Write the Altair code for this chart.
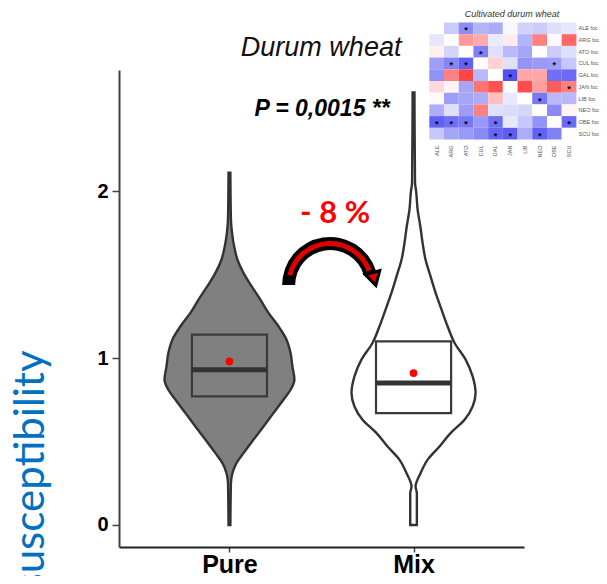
import altair as alt
import pandas as pd

# ---------------- data ----------------
groups = ["Pure", "Mix"]
group_pos = [1, 2]
group_fill = ["#808080", "#ffffff"]

# violin outlines: value and half-width (category units)
pure_values = [0.00, 0.25, 0.31, 0.37, 0.43, 0.51, 0.59, 0.67, 0.75, 0.81, 0.87, 0.95,
               1.03, 1.11, 1.19, 1.27, 1.35, 1.43, 1.51, 1.59, 1.66, 1.75, 1.83, 2.11]
pure_halfwidth = [0.005, 0.008, 0.016, 0.038, 0.076, 0.130, 0.185, 0.239, 0.293, 0.332, 0.353, 0.342,
                  0.332, 0.310, 0.266, 0.212, 0.168, 0.120, 0.076, 0.043, 0.027, 0.014, 0.008, 0.005]

mix_values = [0.00, 0.19, 0.23, 0.31, 0.39, 0.47, 0.55, 0.63, 0.71, 0.79, 0.89, 0.99,
              1.09, 1.19, 1.29, 1.39, 1.49, 1.59, 1.69, 1.78, 1.89, 2.00, 2.05, 2.59]
mix_halfwidth = [0.018, 0.018, 0.011, 0.038, 0.076, 0.141, 0.201, 0.277, 0.321, 0.337, 0.321, 0.283,
                 0.223, 0.185, 0.152, 0.120, 0.092, 0.065, 0.049, 0.038, 0.022, 0.014, 0.008, 0.005]

q1 = [0.77, 0.67]
median = [0.93, 0.85]
q3 = [1.14, 1.10]
mean = [0.98, 0.91]
box_half = 0.204

title_text = "Durum wheat"
p_text = "P = 0,0015 **"
change_text = "- 8 %"

# inset correlation heatmap
heat_title = "Cultivated durum wheat"
heat_rows = ["ALE foc", "ARG foc", "ATO foc", "CUL foc", "GAL foc",
             "JAN foc", "LIB foc", "NEO foc", "OBE foc", "SCU foc"]
heat_cols = ["ALE", "ARG", "ATO", "CUL", "GAL", "JAN", "LIB", "NEO", "OBE", "SCU"]
heat_vals = [
    [0.00, -0.20, -0.45, -0.30, -0.33, -0.03, -0.18, -0.20, -0.13, -0.10],
    [-0.10, 0.00, 0.40, 0.33, -0.08, 0.08, -0.30, 0.50, -0.02, 0.60],
    [0.06, -0.17, 0.00, -0.50, -0.12, -0.28, -0.35, 0.00, -0.20, -0.13],
    [-0.38, -0.48, -0.62, 0.00, 0.18, -0.12, -0.42, -0.40, -0.38, -0.22],
    [-0.43, 0.50, 0.73, -0.28, 0.00, -0.68, 0.35, 0.35, -0.56, -0.58],
    [0.15, 0.04, -0.35, 0.54, 0.68, 0.00, 0.70, 0.38, 0.64, 0.50],
    [0.02, -0.38, -0.35, -0.32, 0.25, -0.09, 0.00, -0.53, -0.28, -0.28],
    [-0.32, -0.12, -0.38, 0.50, -0.12, -0.14, -0.16, 0.00, -0.46, 0.04],
    [-0.62, -0.56, -0.53, -0.40, -0.56, -0.09, -0.22, -0.42, 0.00, -0.58],
    [-0.22, -0.35, -0.40, -0.46, -0.60, -0.64, -0.32, -0.62, -0.50, 0.00],
]
heat_star_rows = [0, 2, 3, 3, 3, 4, 5, 6, 8, 8, 8, 8, 8, 9, 9, 9]
heat_star_cols = [2, 3, 1, 2, 8, 5, 9, 7, 0, 1, 2, 4, 9, 4, 5, 7]

# ---------------- layout / style ----------------
W, H = 405, 477
Y_DOMAIN = [-0.132, 2.725]
X_DOMAIN = [0.4, 2.6]
SANS = "Liberation Sans"
AX = "#444444"
LINE = "#333333"

# ---------------- tables ----------------
rows = []
for g, pos, vals, hws in [(groups[0], group_pos[0], pure_values, pure_halfwidth),
                          (groups[1], group_pos[1], mix_values, mix_halfwidth)]:
    for v, hw in zip(vals, hws):
        rows.append({"group": g, "value": v, "xl": pos - hw, "xr": pos + hw})
violin_df = pd.DataFrame(rows)

box_df = pd.DataFrame({
    "group": groups, "pos": group_pos,
    "x0": [p - box_half for p in group_pos], "x1": [p + box_half for p in group_pos],
    "q1": q1, "median": median, "q3": q3, "mean": mean,
})

heat_df = pd.DataFrame([
    {"row": heat_rows[i], "col": heat_cols[j], "r": heat_vals[i][j]}
    for i in range(len(heat_rows)) for j in range(len(heat_cols))
])
star_df = pd.DataFrame({
    "row": [heat_rows[i] for i in heat_star_rows],
    "col": [heat_cols[j] for j in heat_star_cols],
})

label_expr = " : ".join(
    [f"datum.value == {p} ? '{g}'" for p, g in zip(group_pos[:-1], groups[:-1])]
) + f" : '{groups[-1]}'"

x_scale = alt.Scale(domain=X_DOMAIN, nice=False, zero=False)
y_scale = alt.Scale(domain=Y_DOMAIN, nice=False, zero=False)

x_axis = alt.Axis(values=group_pos, labelExpr=label_expr, title=None, grid=False,
                  domainColor="#222222", domainWidth=2, tickColor=AX, tickWidth=1.5, tickSize=5,
                  labelFont=SANS, labelFontSize=25, labelFontWeight="bold", labelColor="#000000",
                  labelPadding=0)
y_axis = alt.Axis(values=[0, 1, 2], format="d", grid=False,
                  domainColor=AX, domainWidth=2, tickColor=AX, tickWidth=1.5, tickSize=7,
                  labelFont=SANS, labelFontSize=20, labelFontWeight="bold", labelColor="#000000",
                  labelPadding=4,
                  title="susceptibility", titleFont="Lato", titleFontSize=42, titleFontWeight="normal",
                  titleColor="#0070C0", titleAngle=270, titleAlign="left", titleBaseline="alphabetic",
                  titleX=-76, titleY=521)


def X(field):
    return alt.X(f"{field}:Q", scale=x_scale, axis=x_axis)


def Y(field):
    return alt.Y(f"{field}:Q", scale=y_scale, axis=y_axis)


violins = alt.Chart(violin_df).mark_area(orient="horizontal", stroke=LINE, strokeWidth=2.4,
                                          interpolate="monotone").encode(
    x=X("xl"), x2="xr", y=Y("value"),
    detail="group:N",
    fill=alt.Fill("group:N", scale=alt.Scale(domain=groups, range=group_fill), legend=None),
)

boxes = alt.Chart(box_df).mark_rect(fillOpacity=0, stroke="#3a3a3a", strokeWidth=2.2).encode(
    x=X("x0"), x2="x1", y=Y("q1"), y2="q3")

medians = alt.Chart(box_df).mark_rule(color=LINE, strokeWidth=5).encode(
    x=X("x0"), x2="x1", y=Y("median"))

means = alt.Chart(box_df).mark_point(filled=True, color="#ff0000", size=60, opacity=1).encode(
    x=X("pos"), y=Y("mean"))

# annotation positions (data units of the main chart)
ann = pd.DataFrame({
    "label": [title_text, p_text, change_text, heat_title],
    "x": [1.498, 1.503, 1.574, 2.535],
    "y": [2.856, 2.494, 1.862, 3.06],
})

t_title = alt.Chart(ann.iloc[[0]]).mark_text(font=SANS, fontSize=27, fontStyle="italic",
                                             color="#111111", baseline="middle").encode(
    x=X("x"), y=Y("y"), text="label:N")
t_p = alt.Chart(ann.iloc[[1]]).mark_text(font=SANS, fontSize=23, fontStyle="italic", fontWeight="bold",
                                         color="#000000", baseline="middle").encode(
    x=X("x"), y=Y("y"), text="label:N")
t_change = alt.Chart(ann.iloc[[2]]).mark_text(font="Lato", fontSize=31, fontWeight="bold",
                                              color="#ff0000", baseline="middle").encode(
    x=X("x"), y=Y("y"), text="label:N")
t_heat = alt.Chart(ann.iloc[[3]]).mark_text(font=SANS, fontSize=9, fontStyle="italic",
                                            color="#333333", baseline="middle").encode(
    x=X("x"), y=Y("y"), text="label:N")

arrow_df = pd.DataFrame({"x": [1.547], "y": [1.437], "hx": [1.786], "hy": [1.473]})
arc_black = alt.Chart(arrow_df).mark_arc(color="#000000").encode(
    x=X("x"), y=Y("y"),
    theta=alt.value(4.712), theta2=alt.value(7.55),
    radius=alt.value(48), radius2=alt.value(35))
arc_red = alt.Chart(arrow_df).mark_arc(color="#e00000").encode(
    x=X("x"), y=Y("y"),
    theta=alt.value(4.95), theta2=alt.value(7.5),
    radius=alt.value(44), radius2=alt.value(39))
head = alt.Chart(arrow_df).mark_point(shape="triangle-down", filled=True, fill="#e00000",
                                      stroke="#000000", strokeWidth=3, size=230, angle=345,
                                      opacity=1).encode(
    x=X("hx"), y=Y("hy"))

main = alt.layer(violins, boxes, medians, means, arc_black, arc_red, head,
                 t_title, t_p, t_change, t_heat)

# ---------------- inset heatmap ----------------
hx = alt.X("col:N", sort=heat_cols,
           scale=alt.Scale(range=[310.3, 457.4], paddingInner=0, paddingOuter=0),
           axis=alt.Axis(orient="bottom", offset=-407, labelAngle=270, domain=False, ticks=False,
                         tickSize=0, labelFont=SANS, labelFontSize=5.5, labelColor="#555555",
                         labelPadding=5, title=None))
hy = alt.Y("row:N", sort=heat_rows,
           scale=alt.Scale(range=[-47.5, 69.5], paddingInner=0, paddingOuter=0),
           axis=alt.Axis(orient="right", offset=54, domain=False, ticks=False, tickSize=0,
                         labelFont=SANS, labelFontSize=5.5, labelColor="#555555",
                         labelPadding=0, title=None))

heat_rect = alt.Chart(heat_df).mark_rect().encode(
    x=hx, y=hy,
    color=alt.Color("r:Q", scale=alt.Scale(domain=[-1, 0, 1], range=["#0000ee", "#ffffff", "#ff0000"],
                                           interpolate="rgb"),
                    legend=None))
heat_star = alt.Chart(star_df).mark_text(text="*", font=SANS, fontSize=9, fontWeight="bold",
                                         color="#000000", baseline="middle", dy=2).encode(
    x=alt.X("col:N", sort=heat_cols), y=alt.Y("row:N", sort=heat_rows))

heat = alt.layer(heat_rect, heat_star)

chart = alt.layer(main, heat).resolve_scale(
    x="independent", y="independent", color="independent", fill="independent"
).properties(
    width=W, height=H,
    padding={"left": 111, "top": 62, "right": 75, "bottom": 29},
    autosize=alt.AutoSizeParams(type="none"),
).configure_view(stroke=None)

chart.save("out.html", embed_options={"renderer": "svg", "actions": False})
